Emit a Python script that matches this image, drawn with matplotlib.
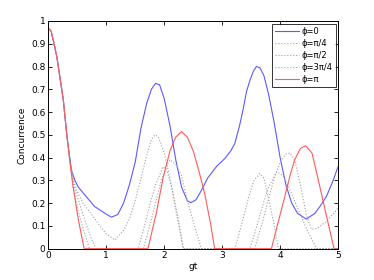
import numpy as np
import matplotlib.pyplot as plt

# values
x_phi0 = [0.0, 0.05, 0.1, 0.15, 0.2, 0.26, 0.32, 0.36, 0.40, 0.46, 0.52, 0.63, 0.8, 0.98, 1.09,
          1.2, 1.3, 1.4, 1.5, 1.6, 1.7, 1.78, 1.85, 1.92, 2.0, 2.1, 2.2, 2.3, 2.4, 2.46,
          2.55, 2.65, 2.75, 2.9, 3.05, 3.15, 3.22, 3.3, 3.36, 3.42, 3.48, 3.54, 3.59, 3.65,
          3.72, 3.8, 3.9, 4.0, 4.1, 4.2, 4.3, 4.45, 4.6, 4.7, 4.8, 4.9, 5.0]
y_phi0 = [0.97, 0.955, 0.90, 0.84, 0.755, 0.653, 0.50, 0.42, 0.345, 0.30, 0.27, 0.236, 0.185, 0.155, 0.138,
          0.15, 0.20, 0.28, 0.38, 0.53, 0.64, 0.70, 0.726, 0.72, 0.66, 0.54, 0.39, 0.27, 0.21, 0.202,
          0.215, 0.26, 0.31, 0.36, 0.397, 0.43, 0.463, 0.54, 0.61, 0.69, 0.74, 0.78, 0.80, 0.795,
          0.76, 0.68, 0.55, 0.40, 0.28, 0.20, 0.155, 0.13, 0.155, 0.19, 0.23, 0.29, 0.36]

x_phi1 = [0.0, 0.05, 0.1, 0.15, 0.2, 0.26, 0.32, 0.38, 0.45, 0.5, 0.6, 0.78, 0.89, 1.0, 1.15,
          1.3, 1.4, 1.5, 1.6, 1.7, 1.78, 1.84, 1.9, 2.0, 2.1, 2.2, 2.33, 3.56,
          3.7, 3.8, 3.9, 4.0, 4.1, 4.17, 4.25, 4.35, 4.45, 4.54, 4.65, 4.8, 5.0]
y_phi1 = [0.97, 0.955, 0.90, 0.84, 0.755, 0.653, 0.50, 0.38, 0.29, 0.25, 0.20, 0.14, 0.10, 0.065, 0.038,
          0.08, 0.13, 0.21, 0.31, 0.41, 0.48, 0.50, 0.49, 0.42, 0.31, 0.17, 0.0, 0.0,
          0.12, 0.22, 0.31, 0.38, 0.415, 0.42, 0.39, 0.28, 0.15, 0.085, 0.09, 0.12, 0.177]

x_phi2 = [0.0, 0.05, 0.1, 0.15, 0.2, 0.26, 0.32, 0.38, 0.45, 0.55, 0.65, 0.75, 0.82, 1.55,
          1.65, 1.75, 1.85, 1.98, 2.05, 2.15, 2.25, 2.33, 3.22,
          3.35, 3.45, 3.55, 3.65, 3.72, 3.8, 3.9, 3.97, 5.0]
y_phi2 = [0.97, 0.955, 0.90, 0.84, 0.755, 0.653, 0.50, 0.37, 0.27, 0.19, 0.11, 0.04, 0.0, 0.0,
          0.09, 0.19, 0.28, 0.36, 0.34, 0.25, 0.12, 0.0, 0.0,
          0.12, 0.22, 0.30, 0.33, 0.31, 0.22, 0.10, 0.0, 0.0]

x_phi3 = [0.0, 0.05, 0.1, 0.15, 0.2, 0.26, 0.32, 0.38, 0.42, 0.5, 0.6, 0.71, 1.64,
          1.75, 1.85, 1.95, 2.05, 2.1, 2.2, 2.3, 2.4, 2.5, 2.64, 3.48,
          3.6, 3.7, 3.8, 3.94, 4.05, 4.15, 4.3, 4.45, 4.63, 5.0]
y_phi3 = [0.97, 0.955, 0.90, 0.84, 0.755, 0.653, 0.50, 0.37, 0.28, 0.18, 0.09, 0.0, 0.0,
          0.10, 0.20, 0.30, 0.37, 0.39, 0.37, 0.32, 0.21, 0.12, 0.0, 0.0,
          0.10, 0.19, 0.27, 0.338, 0.32, 0.27, 0.18, 0.09, 0.0, 0.0]

x_phi4 = [0.0, 0.05, 0.1, 0.15, 0.2, 0.26, 0.32, 0.38, 0.43, 0.52, 0.62, 1.72,
          1.87, 1.98, 2.1, 2.2, 2.3, 2.4, 2.5, 2.6, 2.7, 2.8, 2.87, 3.85,
          3.95, 4.08, 4.17, 4.25, 4.35, 4.44, 4.55, 4.66, 4.74, 4.83, 4.93, 5.0]
y_phi4 = [0.97, 0.955, 0.90, 0.84, 0.755, 0.653, 0.50, 0.37, 0.27, 0.126, 0.0, 0.0,
          0.163, 0.31, 0.43, 0.49, 0.514, 0.49, 0.43, 0.34, 0.24, 0.11, 0.0, 0.0,
          0.10, 0.228, 0.32, 0.39, 0.44, 0.452, 0.42, 0.30, 0.21, 0.11, 0.0, 0.0]

labels = ['ϕ=0', 'ϕ=π/4', 'ϕ=π/2', 'ϕ=3π/4', 'ϕ=π']

plt.rcParams['font.family'] = ['DejaVu Sans']
fig = plt.figure(figsize=(3.74, 2.8), dpi=100)
ax = fig.add_axes([0.129, 0.112, 0.775, 0.813])

ax.plot(x_phi0, y_phi0, color='#5a5aff', lw=0.8, label=labels[0])
ax.plot(x_phi1, y_phi1, color='#a0a0a0', lw=0.8, ls=':', label=labels[1])
ax.plot(x_phi2, y_phi2, color='#a0a0a0', lw=0.8, ls=':', label=labels[2])
ax.plot(x_phi3, y_phi3, color='#a0a0a0', lw=0.8, ls=':', label=labels[3])
ax.plot(x_phi4, y_phi4, color='#ff5a5a', lw=0.8, label=labels[4])

ax.set_xlim(0, 5)
ax.set_ylim(0, 1)
ax.set_xticks(range(6))
ax.set_yticks(np.arange(0, 1.01, 0.1))
ax.set_yticklabels(['0', '0.1', '0.2', '0.3', '0.4', '0.5', '0.6', '0.7', '0.8', '0.9', '1'])
ax.tick_params(direction='in', top=True, right=True, labelsize=6.5, length=3, width=0.6, pad=2)
for s in ax.spines.values():
    s.set_linewidth(0.7)

ax.set_xlabel('gt', fontsize=6.5, labelpad=1)
ax.set_ylabel('Concurrence', fontsize=6.5, labelpad=3)

leg = ax.legend(loc='upper right', fontsize=6, frameon=True, fancybox=False,
                handlelength=2.8, handletextpad=0.3, borderpad=0.4, labelspacing=0.35,
                borderaxespad=0.3)
leg.get_frame().set_edgecolor('black')
leg.get_frame().set_linewidth(0.7)

fig.savefig('out.png', dpi=100)
